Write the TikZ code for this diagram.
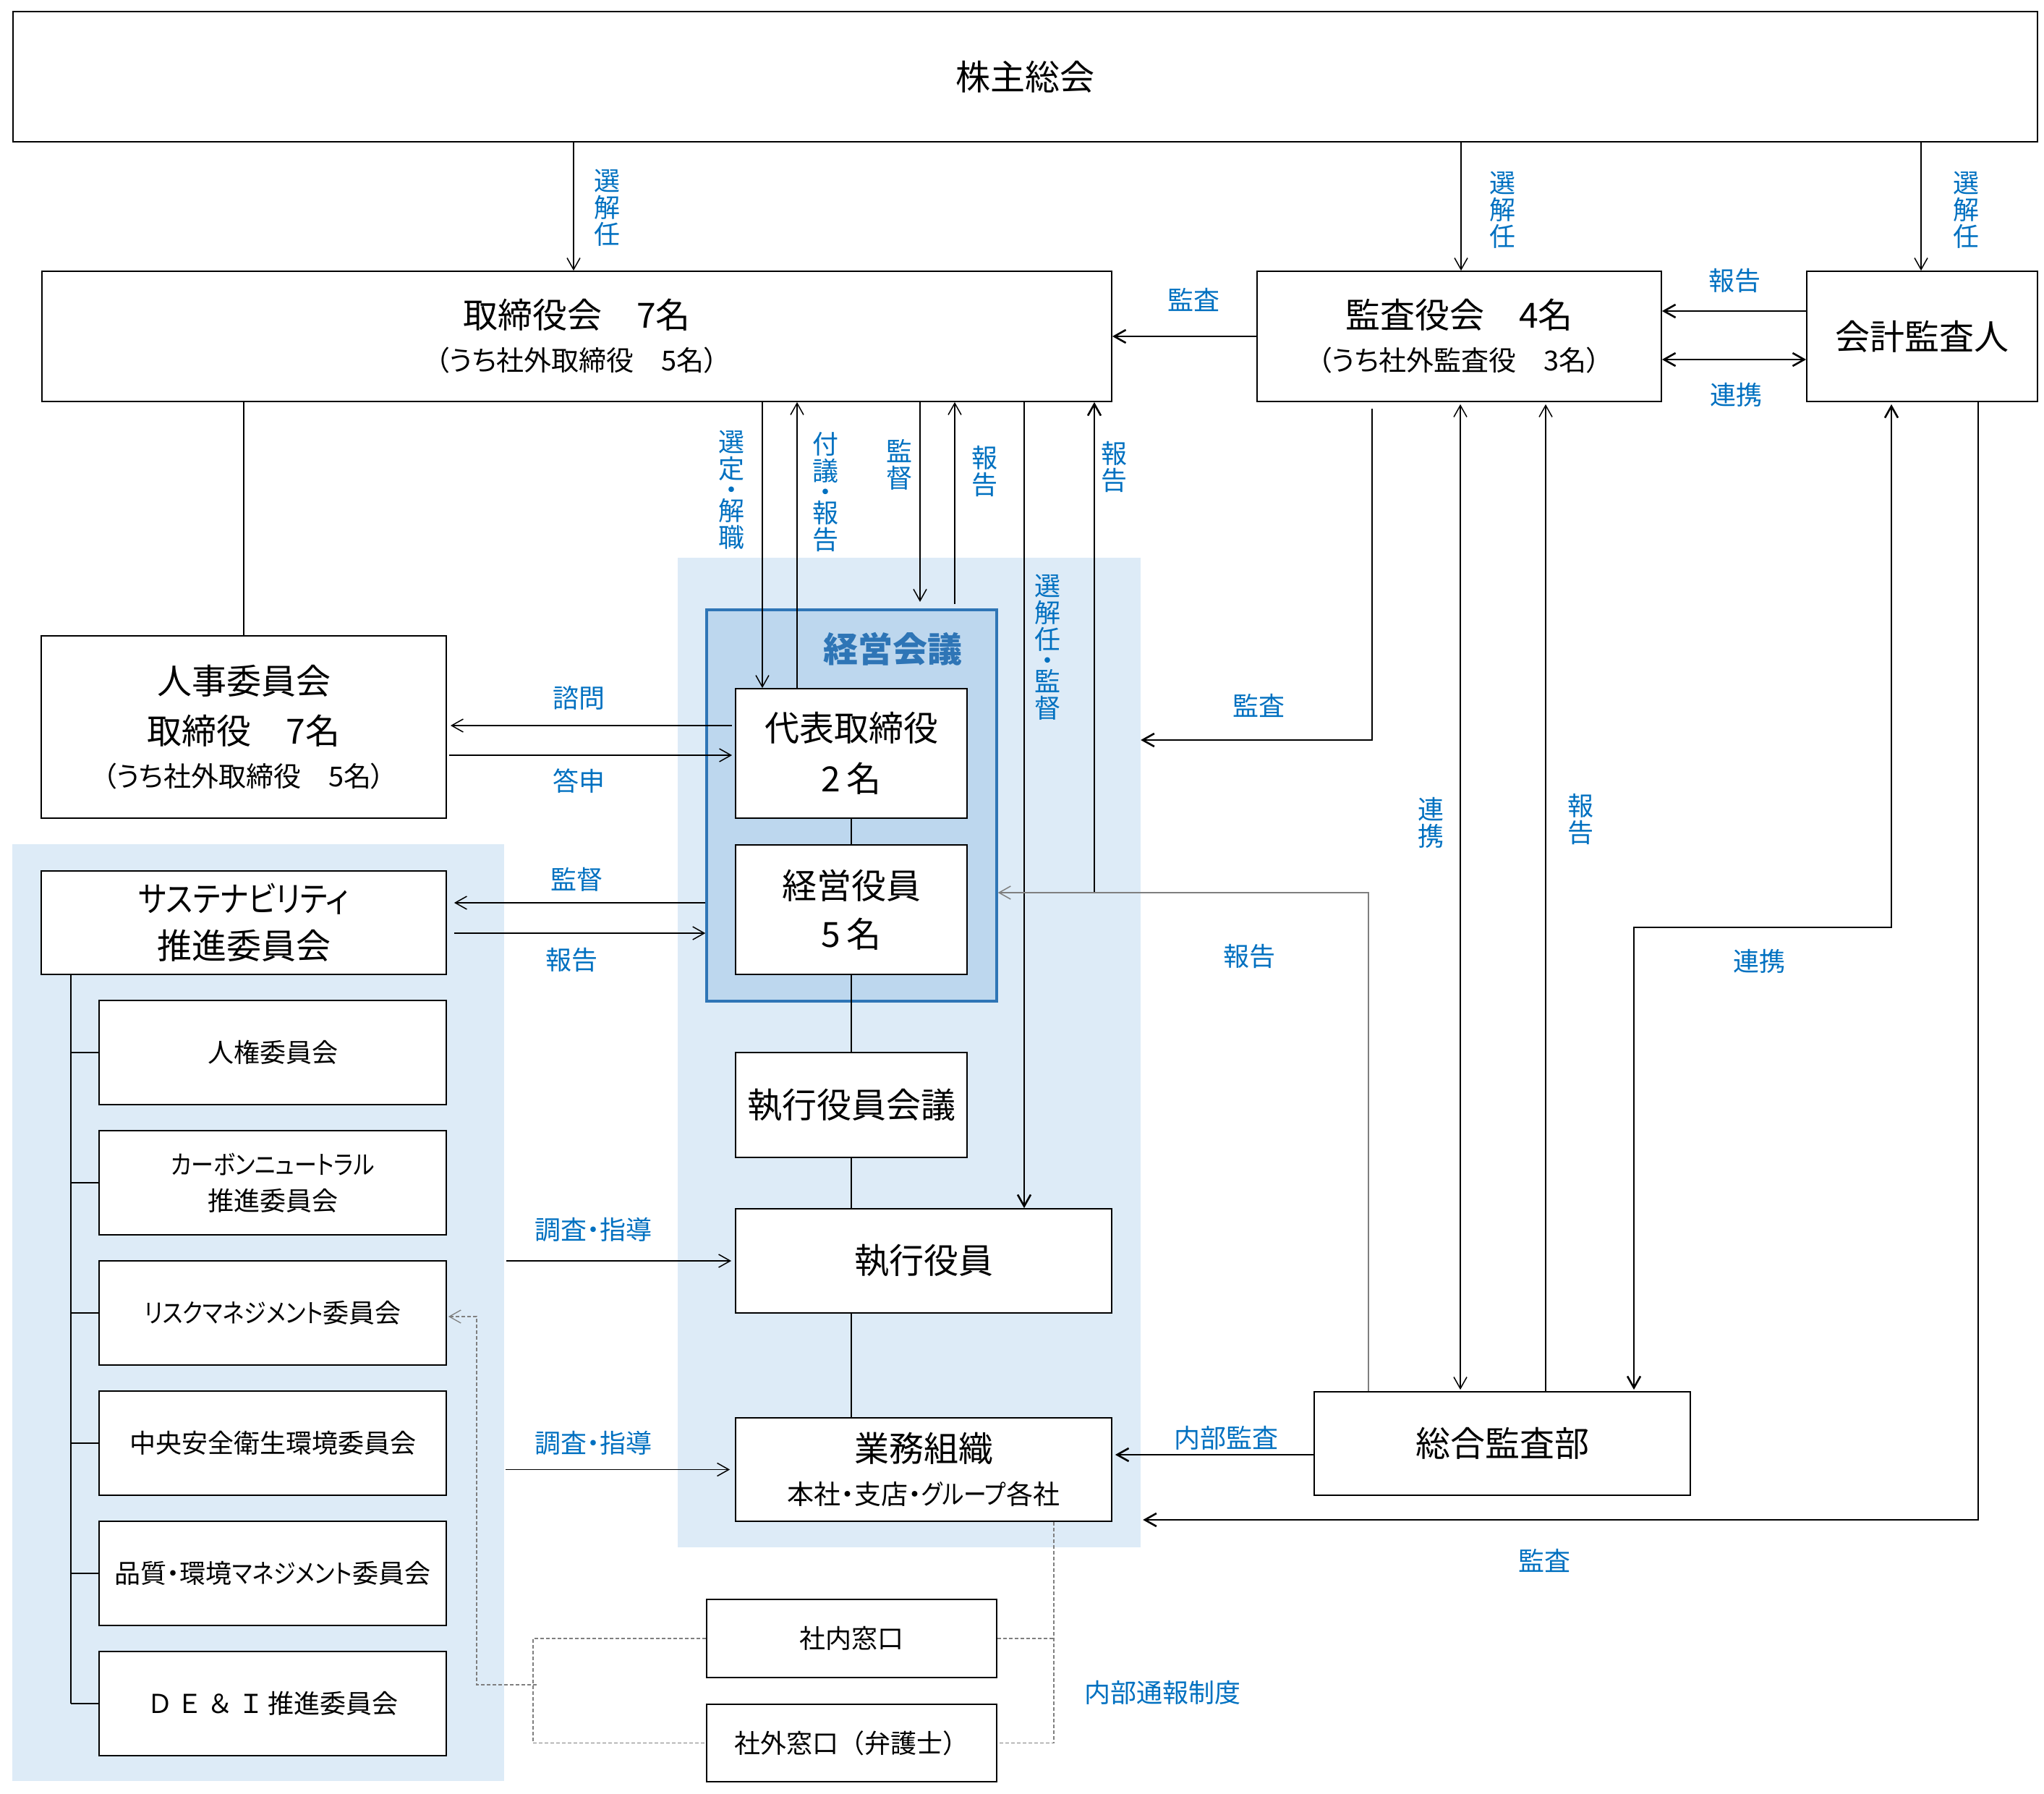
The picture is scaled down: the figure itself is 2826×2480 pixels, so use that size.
\documentclass[tikz,border=0pt]{standalone}
\usepackage{fontspec}
\setmainfont{Noto Sans CJK JP}[RawFeature=+palt]
\newfontfamily\jpfw{Noto Sans CJK JP}
\newfontfamily\kn{Noto Sans CJK JP}[RawFeature=+palt, FakeStretch=0.86]
\usetikzlibrary{arrows.meta}
\definecolor{lab}{HTML}{0070C0}
\definecolor{bgl}{HTML}{DDEBF7}
\definecolor{bgm}{HTML}{BDD7EE}
\definecolor{bdm}{HTML}{2E75B6}
\definecolor{gline}{HTML}{7F7F7F}
\tikzset{
  box/.style={draw=black, line width=1.8pt, fill=white, inner sep=0pt, align=center},
  big/.style={font=\fontsize{48}{59}\selectfont},
  small/.style={font=\fontsize{36}{50}\selectfont},
  lbl/.style={text=lab, font=\fontsize{36}{36}\selectfont, inner sep=0pt},
  vlbl/.style={text=lab, font=\fontsize{36}{37}\selectfont, inner sep=0pt, align=center},
  con/.style={line width=1.5pt, draw=black},
  thk/.style={line width=2.6pt, draw=black},
  gcon/.style={line width=1.5pt, draw=gline},
  dsh/.style={line width=1.3pt, draw=gline, dash pattern=on 5pt off 3pt},
  arr/.style={-{Straight Barb[length=16pt,width=18pt]}},
  darr/.style={{Straight Barb[length=16pt,width=18pt]}-{Straight Barb[length=16pt,width=18pt]}},
}
\begin{document}
\begin{tikzpicture}[x=1pt,y=-1pt]
\useasboundingbox (0,0) rectangle (2826,2480);
% backgrounds
\node[fill=bgl, inner sep=0pt, minimum width=680pt, minimum height=1295pt] (susbg) at (357,1814.5) {};
\node[fill=bgl, inner sep=0pt, minimum width=640pt, minimum height=1368pt] (exbg) at (1257,1455) {};
\node[draw=bdm, line width=3.5pt, fill=bgm, inner sep=0pt, minimum width=401pt, minimum height=541pt] (mgmt) at (1177.5,1113.5) {};
\node[text=bdm, inner sep=0pt, font=\fontsize{48}{48}\selectfont\bfseries] (mgmtt) at (1234,897) {経営会議};

% boxes
\node[box, big, minimum width=2799pt, minimum height=180pt] (gm) at (1417.5,106) {株主総会};
\node[box, big, minimum width=1479pt, minimum height=180pt] (board) at (797.5,465) {取締役会　7名\\{\fontsize{38}{38}\selectfont （うち社外取締役　5名）}};
\node[box, big, minimum width=559pt, minimum height=180pt] (asb) at (2017.5,465) {監査役会　4名\\{\fontsize{38}{38}\selectfont （うち社外監査役　3名）}};
\node[box, big, minimum width=319pt, minimum height=180pt] (acc) at (2657.5,465) {会計監査人};
\node[box, font=\fontsize{48}{64}\selectfont, minimum width=560pt, minimum height=252pt] (hr) at (337,1005) {人事委員会\\[5pt]取締役　7名\\[-5pt]{\fontsize{38}{38}\selectfont （うち社外取締役　5名）}};
\node[box, font=\fontsize{48}{65}\selectfont, minimum width=560pt, minimum height=143pt] (sus) at (337,1275.5) {{\kn サステナビリティ}\\推進委員会};
\node[box, small, minimum width=480pt, minimum height=144pt] (human) at (377,1455) {人権委員会};
\node[box, small, minimum width=480pt, minimum height=144pt] (carbon) at (377,1635) {{\kn カーボンニュートラル}\\推進委員会};
\node[box, small, minimum width=480pt, minimum height=144pt] (risk) at (377,1815) {{\kn リスクマネジメント}委員会};
\node[box, small, minimum width=480pt, minimum height=144pt] (safety) at (377,1995) {中央安全衛生環境委員会};
\node[box, small, minimum width=480pt, minimum height=144pt] (quality) at (377,2175) {品質・環境{\kn マネジメント}委員会};
\node[box, small, minimum width=480pt, minimum height=144pt] (dei) at (377,2355) {{\jpfw Ｄ\,Ｅ\,＆\,Ｉ\,}推進委員会};
\node[box, font=\fontsize{48}{70}\selectfont, minimum width=320pt, minimum height=179pt] (rep) at (1177,1041.5) {代表取締役\\2\,名};
\node[box, font=\fontsize{48}{67}\selectfont, minimum width=320pt, minimum height=179pt] (mo) at (1177,1257.5) {経営役員\\5\,名};
\node[box, big, minimum width=320pt, minimum height=145pt] (eoc) at (1177,1527.5) {執行役員会議};
\node[box, big, minimum width=520pt, minimum height=144pt] (eo) at (1277,1743) {執行役員};
\node[box, big, minimum width=520pt, minimum height=143pt] (biz) at (1277,2031.5) {業務組織\\{\fontsize{37}{37}\selectfont 本社・支店・{\kn グループ}各社}};
\node[box, big, minimum width=520pt, minimum height=143pt] (ia) at (2077,1995.5) {総合監査部};
\node[box, small, minimum width=401pt, minimum height=108pt] (inw) at (1177.5,2265) {社内窓口};
\node[box, small, minimum width=401pt, minimum height=107pt] (exw) at (1177.5,2409.5) {{\jpfw 社外窓口（弁護士）}};

% coordinates
\coordinate (jend) at (1272,832);
\coordinate (kst) at (1320,835);
\coordinate (jn) at (1513,1234);
\coordinate (gr) at (1892,1234);
\coordinate (xa) at (1897,1023);
\coordinate (aa1) at (2615,1282);
\coordinate (aa2) at (2259,1282);
\coordinate (bb1) at (2735,2101);
\coordinate (ed) at (737,2265);
\coordinate (ee) at (737,2409.5);
\coordinate (rk1) at (742,2329);
\coordinate (rk2) at (659,2329);
\coordinate (rk3) at (659,1820);

% connectors
\draw[con,arr] (gm.south -| 793,0) -- (board.north -| 793,0);
\draw[con,arr] (gm.south -| 2020,0) -- (asb.north -| 2020,0);
\draw[con,arr] (gm.south -| 2656,0) -- (acc.north -| 2656,0);
\draw[thk,arr] (asb.west) -- (board.east);
\draw[thk,arr] (acc.west |- 0,430) -- (asb.east |- 0,430);
\draw[thk,darr] (asb.east |- 0,497) -- (acc.west |- 0,497);
\draw[con] (board.south -| hr.north) -- (hr.north);
\draw[con,arr] (board.south -| 1054,0) -- (rep.north -| 1054,0);
\draw[con,arr] (rep.north -| 1102,0) -- (board.south -| 1102,0);
\draw[con,arr] (board.south -| jend) -- (jend);
\draw[con,arr] (kst) -- (board.south -| kst);
\draw[thk,arr] (board.south -| 1416,0) -- (eo.north -| 1416,0);
\draw[thk,arr] (jn) -- (board.south -| jn);
\draw[gcon,arr] (ia.north -| gr) -- (gr) -- (mgmt.east |- gr);
\draw[con,arr,shorten <=4pt,shorten >=5pt] (rep.west |- 0,1003) -- (hr.east |- 0,1003);
\draw[con,arr,shorten <=3pt,shorten >=4pt] (hr.east |- 0,1044) -- (rep.west |- 0,1044);
\draw[con,arr,shorten >=10pt] (mgmt.west |- 0,1248) -- (sus.east |- 0,1248);
\draw[con,arr,shorten <=10pt] (sus.east |- 0,1290) -- (mgmt.west |- 0,1290);
\draw[con] (rep.south) -- (mo.north);
\draw[con] (mo.south) -- (eoc.north);
\draw[con] (eoc.south) -- (eoc.south |- eo.north);
\draw[con] (eoc.south |- eo.south) -- (eoc.south |- biz.north);
\draw[con,arr,shorten <=3pt,shorten >=5pt] (susbg.east |- eo.west) -- (eo.west);
\draw[con,arr,shorten <=2pt,shorten >=7pt] (susbg.east |- biz.west) -- (biz.west);
\draw[thk,arr,shorten <=9pt] (asb.south -| xa) -- (xa) -- (exbg.east |- xa);
\draw[con,darr,shorten <=3pt,shorten >=2pt] (asb.south -| 2019,0) -- (ia.north -| 2019,0);
\draw[con,arr,shorten >=3pt] (ia.north -| 2137,0) -- (asb.south -| 2137,0);
\draw[thk,darr,shorten <=3pt,shorten >=2pt] (acc.south -| aa1) -- (aa1) -- (aa2) -- (ia.north -| aa2);
\draw[thk,arr,shorten >=3pt] (acc.south -| bb1) -- (bb1) -- (exbg.east |- bb1);
\draw[thk,arr,shorten >=4pt] (ia.west |- 0,2011) -- (biz.east |- 0,2011);
\draw[con] (sus.south -| 98,0) -- (dei.west -| 98,0);
\foreach \b in {human,carbon,risk,safety,quality,dei}{
  \draw[con] (\b.west -| 98,0) -- (\b.west);
}
\draw[dsh] (biz.south -| 1457,0) -- (exw.east -| 1457,0) -- (exw.east);
\draw[dsh] (inw.east) -- (inw.east -| 1457,0);
\draw[dsh] (inw.west) -- (ed) -- (ee) -- (exw.west);
\draw[dsh,arr,shorten >=2pt] (rk1) -- (rk2) -- (rk3) -- (risk.east |- rk3);

% labels
\node[vlbl] (l1) at (839,287) {選\\解\\任};
\node[vlbl] (l2) at (2077,290) {選\\解\\任};
\node[vlbl] (l3) at (2718,290) {選\\解\\任};
\node[lbl] (l4) at (1650,414) {監査};
\node[lbl] (l5) at (2398,388) {報告};
\node[lbl] (l6) at (2400,546) {連携};
\node[vlbl] (l7) at (1011,677) {選\\定\\[-8pt]・\\[-8pt]解\\職};
\node[vlbl] (l8) at (1141,680) {付\\議\\[-8pt]・\\[-8pt]報\\告};
\node[vlbl] (l9) at (1243,642) {監\\督};
\node[vlbl] (l10) at (1361,651) {報\\告};
\node[vlbl] (l11) at (1540,645) {報\\告};
\node[vlbl] (l12) at (1448,895) {選\\解\\任\\[-8pt]・\\[-8pt]監\\督};
\node[lbl] (l13) at (800,965) {諮問};
\node[lbl] (l14) at (800,1080) {答申};
\node[lbl] (l15) at (797,1216) {監督};
\node[lbl] (l16) at (790,1327) {報告};
\node[lbl] (l17) at (1740,975) {監査};
\node[lbl] (l18) at (1727,1322) {報告};
\node[vlbl] (l19) at (1978,1137) {連\\携};
\node[vlbl] (l20) at (2185,1132) {報\\告};
\node[lbl] (l21) at (2432,1329) {連携};
\node[lbl] (l22) at (820,1700) {調査・指導};
\node[lbl] (l23) at (820,1995) {調査・指導};
\node[lbl] (l24) at (1695,1988) {内部監査};
\node[lbl] (l25) at (2135,2157) {監査};
\node[lbl] (l26) at (1607,2340) {内部通報制度};
\end{tikzpicture}
\end{document}
